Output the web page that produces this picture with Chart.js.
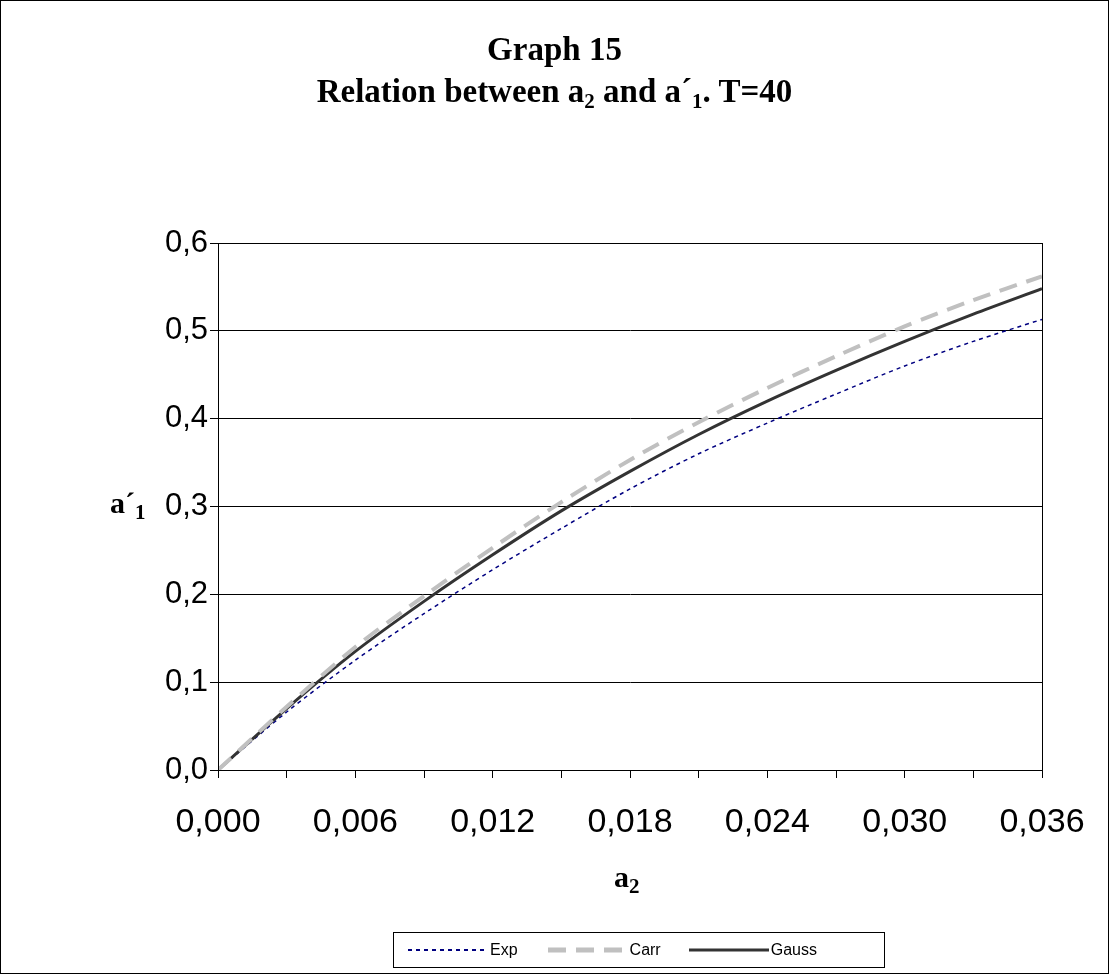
<!DOCTYPE html>
<html>
<head>
<meta charset="utf-8">
<script src="https://cdn.jsdelivr.net/npm/chart.js@4.4.4/dist/chart.umd.min.js"></script>
<style>
  body { margin: 0; background: #fff; }
  #wrap { position: relative; width: 1109px; height: 974px; }
  #frame { position: absolute; left: 0; top: 0; width: 1107px; height: 972px; border: 1px solid #000; }
  canvas { position: absolute; left: 0; top: 0; }
  .t { position: absolute; font-family: "Liberation Serif", "Times New Roman", serif; font-weight: bold; color: #000; }
  #title { left: 0; width: 1109px; top: 28px; text-align: center; font-size: 33px; line-height: 42px; }
  sub { font-size: 21px; vertical-align: -6px; line-height: 0; }
  #legend { position: absolute; left: 393px; top: 932px; width: 490px; height: 34px; border: 1px solid #000;
            font-family: "Liberation Sans", Arial, sans-serif; font-size: 16px; display: flex; align-items: center; }
  .item { display: flex; align-items: center; margin-left: 14px; }
  .item svg { margin-right: 2px; }
</style>
</head>
<body>
<div id="wrap">
  <div id="frame"></div>
  <canvas id="chart" width="1109" height="974"></canvas>
  <div class="t" id="title">Graph 15<br>Relation between a<sub>2</sub> and a´<sub>1</sub>. T=40</div>
  <div class="t" style="left:110px; top:486px; font-size:30px;">a´<sub>1</sub></div>
  <div class="t" style="left:614px; top:860px; font-size:30px;">a<sub>2</sub></div>
  <div id="legend">
    <div class="item"><svg width="80" height="10"><line x1="0" y1="5" x2="80" y2="5" stroke="#000080" stroke-width="2" stroke-dasharray="4,4"/></svg>Exp</div>
    <div class="item" style="margin-left:30px"><svg width="80" height="10"><line x1="0" y1="5" x2="80" y2="5" stroke="#c0c0c0" stroke-width="5" stroke-dasharray="18,10"/></svg>Carr</div>
    <div class="item" style="margin-left:28px"><svg width="80" height="10"><line x1="0" y1="5" x2="80" y2="5" stroke="#333" stroke-width="3"/></svg>Gauss</div>
  </div>
</div>
<script>
const xValues = [0, 0.003, 0.006, 0.009, 0.012, 0.015, 0.018, 0.021, 0.024, 0.027, 0.030, 0.033, 0.036];
const expValues = [0, 0.066, 0.125, 0.178, 0.228, 0.275, 0.320, 0.360, 0.395, 0.428, 0.460, 0.488, 0.513];
const carrValues = [0, 0.072, 0.140, 0.198, 0.253, 0.305, 0.353, 0.396, 0.435, 0.471, 0.505, 0.535, 0.562];
const gaussValues = [0, 0.070, 0.135, 0.192, 0.245, 0.295, 0.340, 0.382, 0.420, 0.455, 0.488, 0.519, 0.548];

const pts = vals => xValues.map((x, i) => ({ x: x, y: vals[i] }));

const boxPlugin = {
    id: 'box',
    afterDraw(chart) {
        const a = chart.chartArea, ctx = chart.ctx;
        ctx.save();
        ctx.strokeStyle = '#000';
        ctx.lineWidth = 1;
        ctx.strokeRect(a.left + 0.5, a.top + 0.5, a.right - a.left, a.bottom - a.top);
        ctx.restore();
    }
};

new Chart(document.getElementById('chart'), {
    type: 'line',
    data: {
        datasets: [
            { label: 'Carr', data: pts(carrValues), borderColor: '#c0c0c0', borderWidth: 4, borderDash: [18, 10], pointRadius: 0, tension: 0.3 },
            { label: 'Gauss', data: pts(gaussValues), borderColor: '#333333', borderWidth: 3, pointRadius: 0, tension: 0.3 },
            { label: 'Exp', data: pts(expValues), borderColor: '#000080', borderWidth: 1.5, borderDash: [4, 4], pointRadius: 0, tension: 0.3 }
        ]
    },
    options: {
        responsive: false,
        animation: false,
        layout: { padding: { left: 0, top: 243, right: 67, bottom: 0 } },
        plugins: { legend: { display: false }, tooltip: { enabled: false } },
        scales: {
            x: {
                type: 'linear', min: 0, max: 0.036,
                afterFit: s => { s.height = 204; },
                ticks: {
                    stepSize: 0.003, autoSkip: false, maxRotation: 0, color: '#000',
                    font: { family: 'Liberation Sans, Arial', size: 34 }, padding: 24,
                    callback: v => (Math.round(v / 0.003) % 2 === 0) ? v.toFixed(3).replace('.', ',') : ''
                },
                grid: { drawOnChartArea: false, color: '#000', tickLength: 8 },
                border: { color: '#000' }
            },
            y: {
                min: 0, max: 0.6,
                afterFit: s => { s.width = 218; },
                ticks: {
                    stepSize: 0.1, color: '#000',
                    font: { family: 'Liberation Sans, Arial', size: 31 }, padding: 2,
                    callback: v => v.toFixed(1).replace('.', ',')
                },
                grid: { color: '#000', tickLength: 8 },
                border: { color: '#000' }
            }
        }
    },
    plugins: [boxPlugin]
});
</script>
</body>
</html>
